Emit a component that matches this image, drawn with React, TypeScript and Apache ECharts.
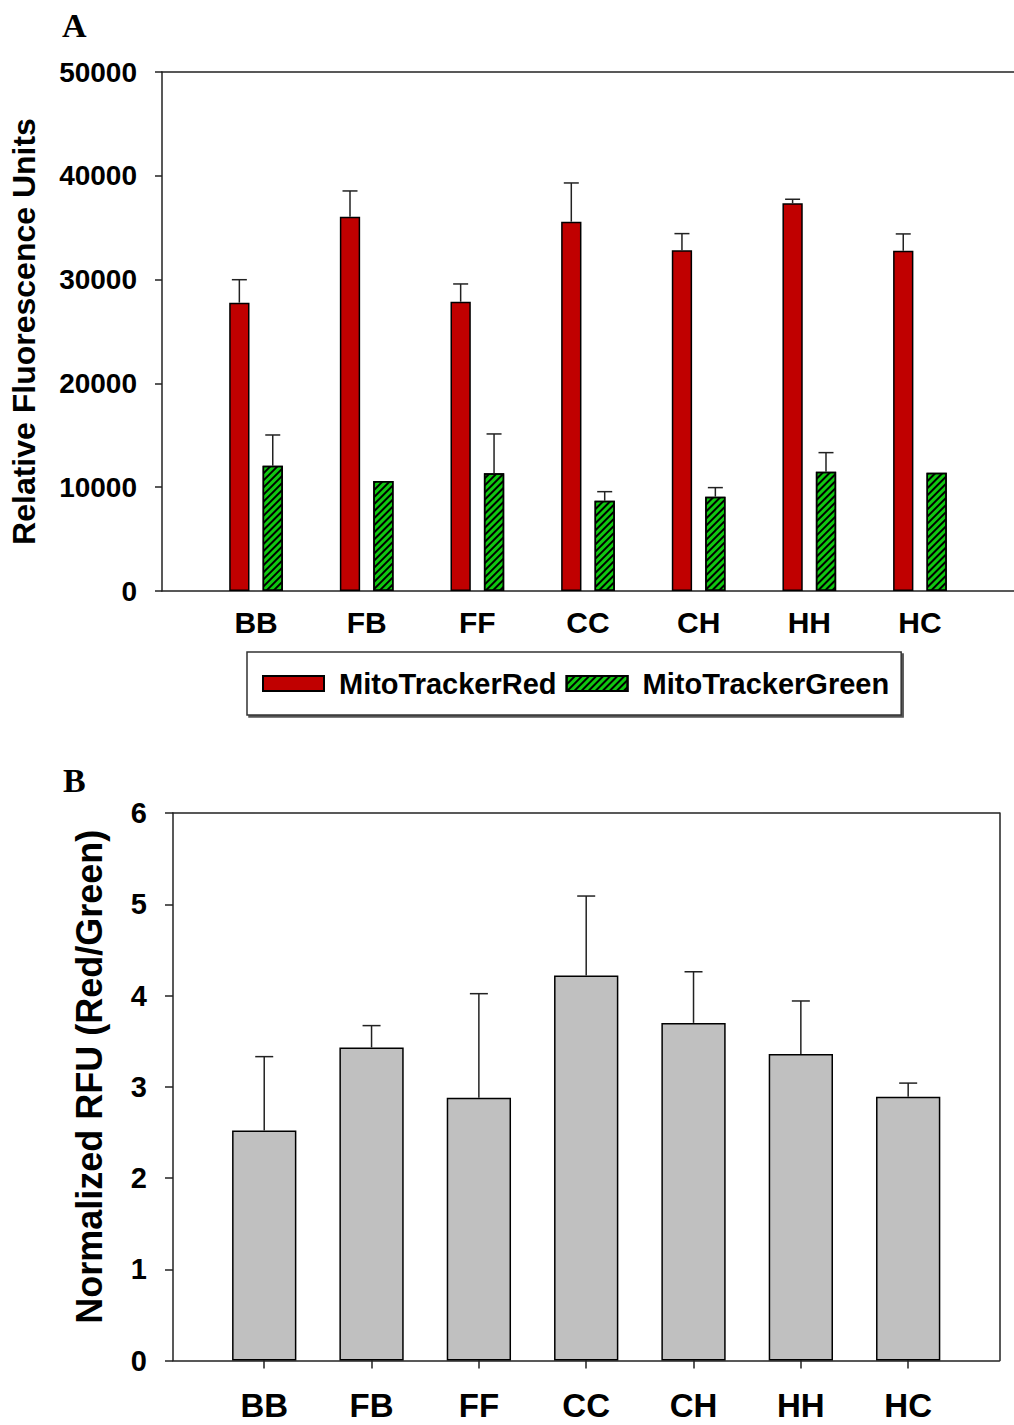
import React, { useEffect, useRef } from "react";
import * as echarts from "echarts";

const categories = ["BB", "FB", "FF", "CC", "CH", "HH", "HC"];
const redMeans = [27780, 36060, 27870, 35580, 32820, 37350, 32790];
const redErr = [2210, 2480, 1710, 3730, 1610, 390, 1610];
const greenMeans = [12070, 10600, 11340, 8700, 9090, 11500, 11400];
const greenErr = [2960, 0, 3790, 870, 870, 1830, 0];
const ratioMeans = [2.52, 3.43, 2.88, 4.22, 3.7, 3.36, 2.89];
const ratioErr = [0.81, 0.24, 1.14, 0.87, 0.56, 0.58, 0.15];
const topTicks = [0, 10000, 20000, 30000, 40000, 50000];
const bottomTicks = [0, 1, 2, 3, 4, 5, 6];

const FONT = "'Liberation Sans', Arial, sans-serif";
const AXIS_COLOR = "#222";
const positions = categories.map((_, i) => i + 1);

const RED_COLOR = "#C00000";
const GREEN_COLOR = "#10C810";
const GREY_COLOR = "#C0C0C0";

const TOP_BAR_W = 20.3;
const TOP_GAP = 13.1;
const TOP_OFFSET = (TOP_BAR_W + TOP_GAP) / 2;

function errRender(offset: number, capHalf: number) {
  return (params: any, api: any) => {
    const x = api.value(0);
    const m = api.value(1);
    const e = api.value(2);
    if (!e) return { type: "group", children: [] };
    const p0 = api.coord([x, m]);
    const p1 = api.coord([x, m + e]);
    const cx = p0[0] + offset;
    const style = { stroke: AXIS_COLOR, lineWidth: 1.5 };
    return {
      type: "group",
      children: [
        { type: "line", shape: { x1: cx, y1: p0[1], x2: cx, y2: p1[1] }, style },
        { type: "line", shape: { x1: cx - capHalf, y1: p1[1], x2: cx + capHalf, y2: p1[1] }, style },
      ],
    };
  };
}

export default function App() {
  const ref = useRef<HTMLDivElement>(null);
  useEffect(() => {
    if (!ref.current) return;
    const chart = echarts.init(ref.current, null, { renderer: "svg" });
    const axisLine = { show: true, onZero: false, lineStyle: { color: AXIS_COLOR, width: 1.5 } };
    const catFormatter = (v: number) => categories[Math.round(v) - 1] ?? "";
    const option: any = {
      animation: false,
      backgroundColor: "#fff",
      grid: [
        { left: 162, top: 72, width: 860, height: 519 },
        { left: 173, top: 813, width: 826.4, height: 547.5 },
      ],
      legend: {
        data: ["MitoTrackerRed", "MitoTrackerGreen"],
        left: 247,
        top: 652,
        orient: "horizontal",
        icon: "rect",
        itemWidth: 61,
        itemHeight: 15,
        itemGap: 9,
        padding: [17, 12, 17, 15],
        borderColor: "#333",
        borderWidth: 1.5,
        backgroundColor: "#fff",
        shadowColor: "#555",
        shadowOffsetX: 2,
        shadowOffsetY: 2,
        shadowBlur: 0,
        textStyle: {
          fontFamily: FONT,
          fontWeight: "bold",
          fontSize: 29,
          color: "#000",
          padding: [0, 0, 0, 10],
        },
      },
      xAxis: [
        {
          type: "value",
          gridIndex: 0,
          min: 0.15,
          max: 7.85,
          position: "bottom",
          axisLine,
          axisTick: { show: false },
          splitLine: { show: false },
          axisLabel: {
            customValues: positions,
            formatter: catFormatter,
            fontFamily: FONT,
            fontWeight: "bold",
            fontSize: 30,
            color: "#000",
            margin: 16,
          },
        },
        {
          type: "value",
          gridIndex: 0,
          min: 0.15,
          max: 7.85,
          position: "top",
          axisLine,
          axisTick: { show: false },
          splitLine: { show: false },
          axisLabel: { show: false },
        },
        {
          type: "value",
          gridIndex: 1,
          min: 0.15,
          max: 7.85,
          position: "bottom",
          axisLine,
          axisTick: { show: true, customValues: positions, length: 8, lineStyle: { color: AXIS_COLOR, width: 1.5 } },
          splitLine: { show: false },
          axisLabel: {
            customValues: positions,
            formatter: catFormatter,
            fontFamily: FONT,
            fontWeight: "bold",
            fontSize: 33,
            color: "#000",
            margin: 28,
          },
        },
        {
          type: "value",
          gridIndex: 1,
          min: 0.15,
          max: 7.85,
          position: "top",
          axisLine,
          axisTick: { show: false },
          splitLine: { show: false },
          axisLabel: { show: false },
        },
      ],
      yAxis: [
        {
          type: "value",
          gridIndex: 0,
          min: topTicks[0],
          max: topTicks[topTicks.length - 1],
          interval: 10000,
          axisLine,
          axisTick: { show: true, length: 7, lineStyle: { color: AXIS_COLOR, width: 1.5 } },
          splitLine: { show: false },
          axisLabel: {
            formatter: (v: number) => String(v),
            fontFamily: FONT,
            fontWeight: "bold",
            fontSize: 28,
            color: "#000",
            margin: 25,
          },
          name: "Relative Fluorescence Units",
          nameLocation: "middle",
          nameGap: 122,
          nameTextStyle: { fontFamily: FONT, fontWeight: "bold", fontSize: 32, color: "#000" },
        },
        {
          type: "value",
          gridIndex: 1,
          min: bottomTicks[0],
          max: bottomTicks[bottomTicks.length - 1],
          interval: 1,
          axisLine,
          axisTick: { show: true, length: 8, lineStyle: { color: AXIS_COLOR, width: 1.5 } },
          splitLine: { show: false },
          axisLabel: {
            formatter: (v: number) => String(v),
            fontFamily: FONT,
            fontWeight: "bold",
            fontSize: 29,
            color: "#000",
            margin: 26,
          },
          name: "Normalized RFU (Red/Green)",
          nameLocation: "middle",
          nameGap: 66,
          nameTextStyle: { fontFamily: FONT, fontWeight: "bold", fontSize: 36, color: "#000", padding: [0, 0, 0, 20] },
        },
        {
          type: "value",
          gridIndex: 1,
          position: "right",
          min: 0,
          max: 6,
          interval: 1,
          axisLine,
          axisTick: { show: false },
          splitLine: { show: false },
          axisLabel: { show: false },
        },
      ],
      series: [
        {
          name: "MitoTrackerRed",
          type: "bar",
          xAxisIndex: 0,
          yAxisIndex: 0,
          barWidth: TOP_BAR_W,
          barGap: (TOP_GAP / TOP_BAR_W) * 100 + "%",
          data: positions.map((x, i) => [x, redMeans[i]]),
          itemStyle: { color: RED_COLOR, borderColor: "#000", borderWidth: 1.5 },
        },
        {
          name: "MitoTrackerGreen",
          type: "bar",
          xAxisIndex: 0,
          yAxisIndex: 0,
          barWidth: TOP_BAR_W,
          barGap: (TOP_GAP / TOP_BAR_W) * 100 + "%",
          data: positions.map((x, i) => [x, greenMeans[i]]),
          itemStyle: {
            color: GREEN_COLOR,
            borderColor: "#000",
            borderWidth: 1.5,
            decal: {
              symbol: "rect",
              symbolSize: 1,
              color: "#000",
              dashArrayX: [1, 0],
              dashArrayY: [1.3, 2.2],
              rotation: -Math.PI / 4,
            },
          },
        },
        {
          name: "redErr",
          type: "custom",
          xAxisIndex: 0,
          yAxisIndex: 0,
          z: 5,
          renderItem: errRender(-TOP_OFFSET, 7.5),
          data: positions.map((x, i) => [x, redMeans[i], redErr[i]]),
        },
        {
          name: "greenErr",
          type: "custom",
          xAxisIndex: 0,
          yAxisIndex: 0,
          z: 5,
          renderItem: errRender(TOP_OFFSET, 7.5),
          data: positions.map((x, i) => [x, greenMeans[i], greenErr[i]]),
        },
        {
          name: "Ratio",
          type: "bar",
          xAxisIndex: 2,
          yAxisIndex: 1,
          barWidth: 64.3,
          data: positions.map((x, i) => [x, ratioMeans[i]]),
          itemStyle: { color: GREY_COLOR, borderColor: "#000", borderWidth: 1.5 },
        },
        {
          name: "ratioErr",
          type: "custom",
          xAxisIndex: 2,
          yAxisIndex: 1,
          z: 5,
          renderItem: errRender(0, 9),
          data: positions.map((x, i) => [x, ratioMeans[i], ratioErr[i]]),
        },
      ],
      graphic: [
        {
          type: "text",
          left: 62,
          top: 8,
          style: { text: "A", fontFamily: "'Liberation Serif', 'Times New Roman', serif", fontWeight: "bold", fontSize: 34, fill: "#000" },
        },
        {
          type: "text",
          left: 63,
          top: 763,
          style: { text: "B", fontFamily: "'Liberation Serif', 'Times New Roman', serif", fontWeight: "bold", fontSize: 34, fill: "#000" },
        },
      ],
    };
    chart.setOption(option);
    return () => chart.dispose();
  }, []);
  return (
    <div
      ref={ref}
      style={{ position: "absolute", left: 0, top: 0, width: 1014, height: 1425 }}
    />
  );
}
